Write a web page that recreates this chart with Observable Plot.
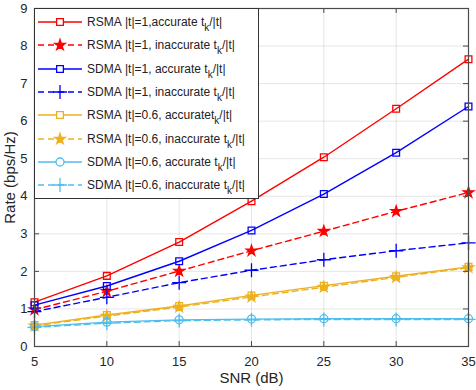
<!DOCTYPE html>
<html><head><meta charset="utf-8">
<script src="https://cdn.jsdelivr.net/npm/d3@7"></script>
<script src="https://cdn.jsdelivr.net/npm/@observablehq/plot@0.6"></script>
<style>
body{margin:0;background:#fff;font-family:"Liberation Sans",Arial,sans-serif;}
#wrap{position:relative;width:476px;height:390px;}
#legend{position:absolute;left:34px;top:8px;width:225px;height:191px;border:1px solid #333;background:#fff;box-sizing:border-box;}
.row{position:absolute;left:0;height:20px;display:flex;align-items:center;font-size:12px;color:#222;white-space:nowrap;}
.row svg{margin-left:2px;margin-right:4px;}
.row sub{font-size:10px;vertical-align:-5px;line-height:0;}
#chart svg text{font-family:"Liberation Sans",Arial,sans-serif !important;}
#chart g[aria-label$="tick label"] text{font-size:13px !important;}
#chart g[aria-label="x-axis label"] text,#chart g[aria-label="y-axis label"] text{font-size:15px !important;}
</style></head>
<body><div id="wrap"><div id="chart"></div><div id="legend"></div></div>
<script>
const snr = [5, 10, 15, 20, 25, 30, 35];
const rsmaAcc1   = [1.18, 1.88, 2.78, 3.87, 5.04, 6.33, 7.65];
const rsmaInacc1 = [0.98, 1.47, 2.01, 2.55, 3.07, 3.60, 4.10];
const sdmaAcc1   = [1.10, 1.61, 2.27, 3.09, 4.06, 5.16, 6.39];
const sdmaInacc1 = [0.93, 1.31, 1.70, 2.03, 2.31, 2.55, 2.76];
const rsmaAcc06   = [0.57, 0.84, 1.08, 1.36, 1.62, 1.87, 2.12];
const rsmaInacc06 = [0.55, 0.81, 1.05, 1.32, 1.58, 1.84, 2.10];
const sdmaAcc06   = [0.53, 0.65, 0.71, 0.73, 0.74, 0.74, 0.74];
const sdmaInacc06 = [0.51, 0.62, 0.69, 0.71, 0.72, 0.72, 0.72];
const xTicks = [5, 10, 15, 20, 25, 30, 35];
const yTicks = [0, 1, 2, 3, 4, 5, 6, 7, 8, 9];

const series = [
  {name: "RSMA |t|=1,accurate ", vals: rsmaAcc1, color: "#ff0000", dash: null, symbol: "square2", r: 4.3, fill: "none"},
  {name: "RSMA |t|=1, inaccurate ", vals: rsmaInacc1, color: "#ff0000", dash: "6,4", symbol: "star", r: 3.3, fill: "#ff0000"},
  {name: "SDMA |t|=1, accurate ", vals: sdmaAcc1, color: "#0000ff", dash: null, symbol: "square2", r: 4.3, fill: "none"},
  {name: "SDMA |t|=1, inaccurate ", vals: sdmaInacc1, color: "#0000ff", dash: "6,4", symbol: "plus", r: 4.6, fill: "none"},
  {name: "RSMA |t|=0.6, accuratet", vals: rsmaAcc06, color: "#EDB120", dash: null, symbol: "square2", r: 4.3, fill: "none"},
  {name: "RSMA |t|=0.6, inaccurate ", vals: rsmaInacc06, color: "#EDB120", dash: "6,4", symbol: "star", r: 3.3, fill: "#EDB120"},
  {name: "SDMA |t|=0.6, accurate ", vals: sdmaAcc06, color: "#4DBEEE", dash: null, symbol: "circle", r: 4, fill: "none"},
  {name: "SDMA |t|=0.6, inaccurate ", vals: sdmaInacc06, color: "#4DBEEE", dash: "6,4", symbol: "plus", r: 4.6, fill: "none"}
];

const W = 476, H = 390, mL = 34, mR = 8, mT = 8, mB = 44;
const pw = W - mL - mR, ph = H - mT - mB;
const axisColor = "#4a4a4a";
const font = "'Liberation Sans', Arial, sans-serif";

const marks = [
  Plot.gridX(xTicks, {stroke: "#000", strokeOpacity: 0.1}),
  Plot.gridY(yTicks, {stroke: "#000", strokeOpacity: 0.1})
];
for (const s of series) {
  const data = snr.map((x, i) => ({x, y: s.vals[i]}));
  marks.push(Plot.line(data, {x: "x", y: "y", stroke: s.color, strokeWidth: 1.4, strokeDasharray: s.dash}));
  marks.push(Plot.dot(data, {x: "x", y: "y", symbol: s.symbol, r: s.r, stroke: s.color, fill: s.fill, strokeWidth: 1.3}));
}
marks.push(
  Plot.ruleY(yTicks, {y: d => d, stroke: axisColor, insetRight: pw - 5}),
  Plot.ruleY(yTicks, {y: d => d, stroke: axisColor, insetLeft: pw - 5}),
  Plot.ruleX(xTicks, {x: d => d, stroke: axisColor, insetTop: ph - 5}),
  Plot.ruleX(xTicks, {x: d => d, stroke: axisColor, insetBottom: ph - 5}),
  Plot.frame({stroke: axisColor, strokeWidth: 1.2}),
  Plot.axisX(xTicks, {tickSize: 0, tickPadding: 10, label: "SNR (dB)", labelAnchor: "center", labelArrow: "none", labelOffset: 36, fill: "#262626", fontSize: 13, fontFamily: font}),
  Plot.axisY(yTicks, {tickSize: 0, tickPadding: 7, label: "Rate (bps/Hz)", labelAnchor: "center", labelArrow: "none", labelOffset: 30, fill: "#262626", fontSize: 13, fontFamily: font})
);

const chart = Plot.plot({
  width: W, height: H,
  marginLeft: mL, marginRight: mR, marginTop: mT, marginBottom: mB,
  x: {domain: [5, 35]},
  y: {domain: [0, 9]},
  style: {fontSize: "13px", fontFamily: font, color: "#262626", background: "#fff"},
  marks
});
document.getElementById("chart").appendChild(chart);

// legend
const legend = document.getElementById("legend");
const symMap = {square2: d3.symbolSquare2, star: d3.symbolStar, plus: d3.symbolPlus, circle: d3.symbolCircle};
series.forEach((s, i) => {
  const row = document.createElement("div");
  row.className = "row";
  row.style.top = (3 + i * 23.3) + "px";
  const svg = d3.create("svg").attr("width", 46).attr("height", 20);
  svg.append("line").attr("x1", 1).attr("x2", 45).attr("y1", 10).attr("y2", 10)
    .attr("stroke", s.color).attr("stroke-width", 1.4).attr("stroke-dasharray", s.dash);
  svg.append("path").attr("transform", "translate(23,10)")
    .attr("d", d3.symbol(symMap[s.symbol], s.r * s.r * Math.PI)())
    .attr("stroke", s.color).attr("stroke-width", 1.3).attr("fill", s.fill === "none" ? "#fff" : s.fill);
  row.appendChild(svg.node());
  const span = document.createElement("span");
  if (s.name.endsWith("accuratet")) span.innerHTML = s.name.replace(/ /g, "&nbsp;") + "<sub>k</sub>/|t|";
  else span.innerHTML = s.name.replace(/ /g, "&nbsp;") + "t<sub>k</sub>/|t|";
  row.appendChild(span);
  legend.appendChild(row);
});
</script></body></html>
